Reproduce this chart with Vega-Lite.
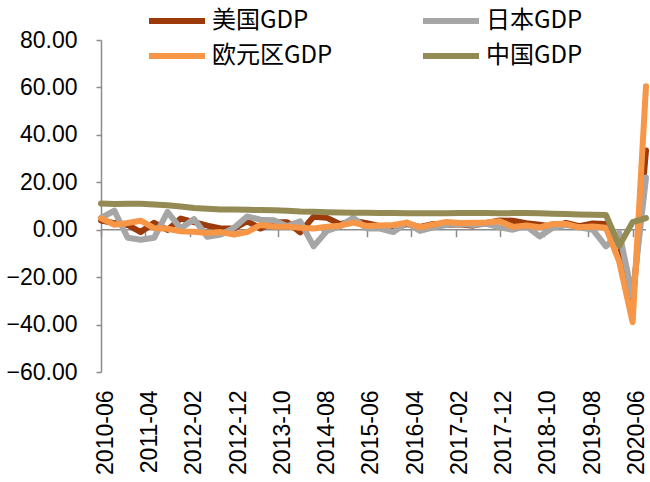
{
  "$schema": "https://vega.github.io/schema/vega-lite/v6.json",
  "width": 545,
  "height": 332,
  "autosize": {"type": "none"},
  "padding": {"left": 101, "top": 40, "right": 4, "bottom": 110},
  "background": "white",
  "config": {"view": {"stroke": null}, "font": "Liberation Sans"},
  "layer": [
    {
      "data": {"values": [{"start": "2010-06-01", "end": "2020-09-01", "zero": 0}]},
      "mark": {"type": "rule", "color": "#8c8c8c", "strokeWidth": 1.5},
      "encoding": {
        "x": {
          "field": "start", "type": "temporal",
          "scale": {"type": "utc", "domain": [{"year": 2010, "month": 6, "date": 1, "utc": true}, {"year": 2020, "month": 9, "date": 1, "utc": true}]},
          "axis": {
            "orient": "bottom", "offset": -142.3, "labels": false, "domain": false, "ticks": true,
            "tickSize": 7, "tickColor": "#8c8c8c", "tickWidth": 1.5, "grid": false, "title": null,
            "values": [
              {"year": 2010, "month": 6, "date": 1, "utc": true},
              {"year": 2011, "month": 4, "date": 1, "utc": true},
              {"year": 2012, "month": 2, "date": 1, "utc": true},
              {"year": 2012, "month": 12, "date": 1, "utc": true},
              {"year": 2013, "month": 10, "date": 1, "utc": true},
              {"year": 2014, "month": 8, "date": 1, "utc": true},
              {"year": 2015, "month": 6, "date": 1, "utc": true},
              {"year": 2016, "month": 4, "date": 1, "utc": true},
              {"year": 2017, "month": 2, "date": 1, "utc": true},
              {"year": 2017, "month": 12, "date": 1, "utc": true},
              {"year": 2018, "month": 10, "date": 1, "utc": true},
              {"year": 2019, "month": 8, "date": 1, "utc": true},
              {"year": 2020, "month": 6, "date": 1, "utc": true}
            ]
          }
        },
        "x2": {"field": "end"},
        "y": {
          "field": "zero", "type": "quantitative",
          "scale": {"domain": [-60, 80], "nice": false, "zero": false},
          "axis": {
            "values": [-60, -40, -20, 0, 20, 40, 60, 80], "format": ".2f",
            "labelFontSize": 23, "labelColor": "#000000", "labelPadding": 19,
            "tickSize": 5, "tickColor": "#8c8c8c", "tickWidth": 1.5,
            "domainColor": "#8c8c8c", "domainWidth": 1.5, "grid": false, "title": null
          }
        }
      }
    },
    {
      "data": {"values": [
        {"date": "2010-06-01", "美国GDP": 3.9, "日本GDP": 5.0, "欧元区GDP": 4.8, "中国GDP": 11.1},
        {"date": "2010-09-01", "美国GDP": 2.8, "日本GDP": 8.0, "欧元区GDP": 2.1, "中国GDP": 10.8},
        {"date": "2010-12-01", "美国GDP": 2.0, "日本GDP": -3.4, "欧元区GDP": 2.8, "中国GDP": 10.9},
        {"date": "2011-03-01", "美国GDP": -1.0, "日本GDP": -4.2, "欧元区GDP": 3.8, "中国GDP": 10.9},
        {"date": "2011-06-01", "美国GDP": 2.9, "日本GDP": -3.4, "欧元区GDP": 0.7, "中国GDP": 10.6},
        {"date": "2011-09-01", "美国GDP": -0.1, "日本GDP": 7.5, "欧元区GDP": 0.4, "中国GDP": 10.3},
        {"date": "2011-12-01", "美国GDP": 4.7, "日本GDP": 0.5, "欧元区GDP": -0.7, "中国GDP": 9.8},
        {"date": "2012-03-01", "美国GDP": 3.2, "日本GDP": 4.5, "欧元区GDP": -0.9, "中国GDP": 9.2},
        {"date": "2012-06-01", "美国GDP": 1.7, "日本GDP": -3.0, "欧元区GDP": -1.4, "中国GDP": 8.8},
        {"date": "2012-09-01", "美国GDP": 0.5, "日本GDP": -2.0, "欧元区GDP": -1.0, "中国GDP": 8.5},
        {"date": "2012-12-01", "美国GDP": 0.5, "日本GDP": 0.8, "欧元区GDP": -2.0, "中国GDP": 8.5},
        {"date": "2013-03-01", "美国GDP": 3.6, "日本GDP": 5.6, "欧元区GDP": -1.0, "中国GDP": 8.4},
        {"date": "2013-06-01", "美国GDP": 0.5, "日本GDP": 4.2, "欧元区GDP": 2.0, "中国GDP": 8.3},
        {"date": "2013-09-01", "美国GDP": 3.2, "日本GDP": 4.0, "欧元区GDP": 1.4, "中国GDP": 8.2},
        {"date": "2013-12-01", "美国GDP": 3.2, "日本GDP": 1.5, "欧元区GDP": 1.3, "中国GDP": 8.0},
        {"date": "2014-03-01", "美国GDP": -1.1, "日本GDP": 3.5, "欧元区GDP": 0.8, "中国GDP": 7.7},
        {"date": "2014-06-01", "美国GDP": 5.5, "日本GDP": -7.0, "欧元区GDP": 0.5, "中国GDP": 7.6},
        {"date": "2014-09-01", "美国GDP": 5.0, "日本GDP": -0.5, "欧元区GDP": 1.3, "中国GDP": 7.4},
        {"date": "2014-12-01", "美国GDP": 2.3, "日本GDP": 1.5, "欧元区GDP": 1.7, "中国GDP": 7.3},
        {"date": "2015-03-01", "美国GDP": 3.8, "日本GDP": 5.0, "欧元区GDP": 3.0, "中国GDP": 7.2},
        {"date": "2015-06-01", "美国GDP": 2.7, "日本GDP": 0.5, "欧元区GDP": 1.6, "中国GDP": 7.2},
        {"date": "2015-09-01", "美国GDP": 1.5, "日本GDP": 0.5, "欧元区GDP": 1.8, "中国GDP": 7.1},
        {"date": "2015-12-01", "美国GDP": 0.6, "日本GDP": -1.0, "欧元区GDP": 2.0, "中国GDP": 7.1},
        {"date": "2016-03-01", "美国GDP": 2.4, "日本GDP": 3.0, "欧元区GDP": 3.0, "中国GDP": 6.9},
        {"date": "2016-06-01", "美国GDP": 1.2, "日本GDP": -0.5, "欧元区GDP": 1.0, "中国GDP": 6.9},
        {"date": "2016-09-01", "美国GDP": 2.4, "日本GDP": 1.0, "欧元区GDP": 2.2, "中国GDP": 6.9},
        {"date": "2016-12-01", "美国GDP": 2.0, "日本GDP": 2.0, "欧元区GDP": 3.3, "中国GDP": 6.9},
        {"date": "2017-03-01", "美国GDP": 2.3, "日本GDP": 2.5, "欧元区GDP": 2.8, "中国GDP": 7.0},
        {"date": "2017-06-01", "美国GDP": 1.7, "日本GDP": 2.0, "欧元区GDP": 2.9, "中国GDP": 7.0},
        {"date": "2017-09-01", "美国GDP": 2.9, "日本GDP": 2.5, "欧元区GDP": 3.0, "中国GDP": 7.0},
        {"date": "2017-12-01", "美国GDP": 3.9, "日本GDP": 1.0, "欧元区GDP": 3.6, "中国GDP": 6.9},
        {"date": "2018-03-01", "美国GDP": 3.8, "日本GDP": 0.0, "欧元区GDP": 1.2, "中国GDP": 7.0},
        {"date": "2018-06-01", "美国GDP": 2.7, "日本GDP": 1.5, "欧元区GDP": 1.8, "中国GDP": 7.0},
        {"date": "2018-09-01", "美国GDP": 2.1, "日本GDP": -2.8, "欧元区GDP": 1.0, "中国GDP": 6.9},
        {"date": "2018-12-01", "美国GDP": 1.3, "日本GDP": 0.8, "欧元区GDP": 2.4, "中国GDP": 6.7},
        {"date": "2019-03-01", "美国GDP": 2.9, "日本GDP": 2.0, "欧元区GDP": 2.4, "中国GDP": 6.6},
        {"date": "2019-06-01", "美国GDP": 1.5, "日本GDP": 1.0, "欧元区GDP": 1.0, "中国GDP": 6.4},
        {"date": "2019-09-01", "美国GDP": 2.6, "日本GDP": 0.0, "欧元区GDP": 1.4, "中国GDP": 6.3},
        {"date": "2019-12-01", "美国GDP": 2.4, "日本GDP": -7.0, "欧元区GDP": 0.8, "中国GDP": 6.2},
        {"date": "2020-03-01", "美国GDP": -5.0, "日本GDP": -1.3, "欧元区GDP": -13.5, "中国GDP": -6.8},
        {"date": "2020-06-01", "美国GDP": -31.4, "日本GDP": -28.0, "欧元区GDP": -39.0, "中国GDP": 3.2},
        {"date": "2020-09-01", "美国GDP": 33.4, "日本GDP": 22.0, "欧元区GDP": 60.5, "中国GDP": 4.9}
      ]},
      "transform": [{"fold": ["美国GDP", "日本GDP", "欧元区GDP", "中国GDP"], "as": ["series", "value"]}],
      "mark": {"type": "line", "strokeWidth": 6, "strokeCap": "round", "strokeJoin": "round"},
      "encoding": {
        "x": {
          "field": "date", "type": "temporal",
          "scale": {"type": "utc", "domain": [{"year": 2010, "month": 6, "date": 1, "utc": true}, {"year": 2020, "month": 9, "date": 1, "utc": true}]},
          "axis": {
            "orient": "bottom", "format": "%Y-%m", "labelAngle": -90, "labelFontSize": 23,
            "labelColor": "#000000", "labelPadding": 18, "labelOffset": 4, "domain": false, "ticks": false,
            "grid": false, "title": null, "labelOverlap": false, "labelFlush": false, "labelBound": false,
            "values": [
              {"year": 2010, "month": 6, "date": 1, "utc": true},
              {"year": 2011, "month": 4, "date": 1, "utc": true},
              {"year": 2012, "month": 2, "date": 1, "utc": true},
              {"year": 2012, "month": 12, "date": 1, "utc": true},
              {"year": 2013, "month": 10, "date": 1, "utc": true},
              {"year": 2014, "month": 8, "date": 1, "utc": true},
              {"year": 2015, "month": 6, "date": 1, "utc": true},
              {"year": 2016, "month": 4, "date": 1, "utc": true},
              {"year": 2017, "month": 2, "date": 1, "utc": true},
              {"year": 2017, "month": 12, "date": 1, "utc": true},
              {"year": 2018, "month": 10, "date": 1, "utc": true},
              {"year": 2019, "month": 8, "date": 1, "utc": true},
              {"year": 2020, "month": 6, "date": 1, "utc": true}
            ]
          }
        },
        "y": {
          "field": "value", "type": "quantitative",
          "scale": {"domain": [-60, 80], "nice": false, "zero": false},
          "axis": {
            "values": [-60, -40, -20, 0, 20, 40, 60, 80], "format": ".2f",
            "labelFontSize": 23, "labelColor": "#000000", "labelPadding": 19,
            "tickSize": 5, "tickColor": "#8c8c8c", "tickWidth": 1.5,
            "domainColor": "#8c8c8c", "domainWidth": 1.5, "grid": false, "title": null
          }
        },
        "color": {
          "field": "series", "type": "nominal",
          "scale": {"domain": ["美国GDP", "日本GDP", "欧元区GDP", "中国GDP"], "range": ["#9D3A0A", "#A6A6A6", "#F79646", "#948A54"]},
          "legend": {
            "orient": "none", "direction": "horizontal", "legendX": 59, "legendY": -36, "columns": 2, "columnPadding": 78,
            "rowPadding": 6, "symbolType": "M-2,0H2", "symbolSize": 784, "symbolStrokeWidth": 6,
            "labelFont": "Noto Sans CJK SC", "labelFontSize": 24, "labelColor": "#000000",
            "labelOffset": 18, "title": null, "padding": 0, "labelLimit": 300
          }
        }
      }
    }
  ],
  "resolve": {"axis": {"x": "independent"}}
}
